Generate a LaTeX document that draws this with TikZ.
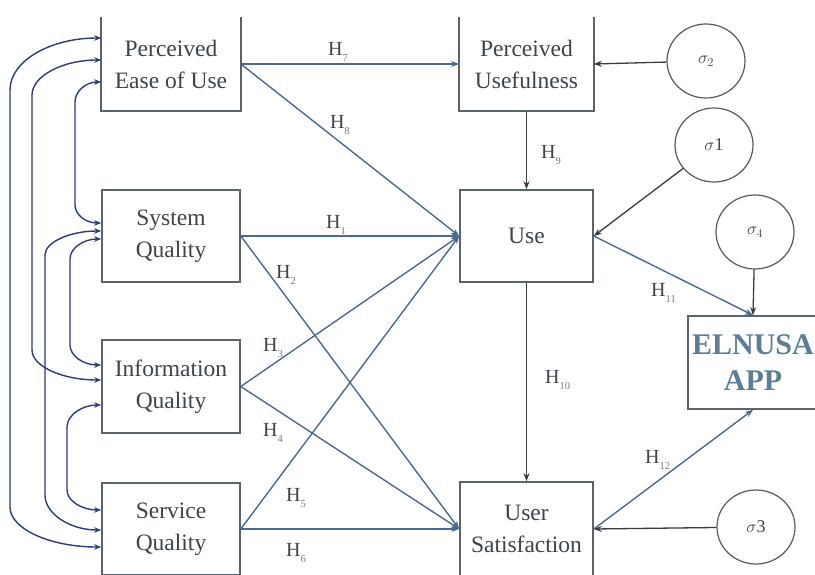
\documentclass[tikz,border=0pt]{standalone}
\usepackage{fontspec}
\setmainfont{Liberation Serif}
\usetikzlibrary{arrows.meta,shapes.geometric}
\definecolor{boxc}{HTML}{5A636E}
\definecolor{txtc}{HTML}{3E434B}
\definecolor{arrc}{HTML}{4A6A92}
\definecolor{darkc}{HTML}{3A3C40}
\definecolor{covc}{HTML}{2C3A7E}
\definecolor{appc}{HTML}{5B7E96}
\newcommand\Hsub[1]{H\raisebox{-0.3em}{\fontsize{10.5}{10.5}\selectfont\color{txtc!70}#1}}
\begin{document}
\begin{tikzpicture}[x=1pt,y=-1pt,
  box/.style={draw=boxc, line width=1.6pt, minimum width=138pt, minimum height=92pt,
    align=center, text=txtc, font=\fontsize{23.5}{32}\selectfont, inner sep=0pt},
  openbox/.style={box, draw=none},
  boxline/.style={draw=boxc, line width=1.6pt},
  errnode/.style={ellipse, draw=darkc!85, line width=1.2pt, minimum width=78pt,
    minimum height=74pt, inner sep=0pt, text=txtc, font=\fontsize{18}{18}\selectfont},
  hyp/.style={arrc, line width=1.4pt, -{Stealth[length=8pt,width=6pt]}},
  dhyp/.style={darkc, line width=1.3pt, -{Stealth[length=8pt,width=6pt]}},
  cov/.style={covc, line width=1.4pt, {Stealth[length=7pt,width=5.5pt]}-{Stealth[length=7pt,width=5.5pt]}},
  hl/.style={anchor=west, text=txtc, font=\fontsize{20}{20}\selectfont, inner sep=0pt}]
\useasboundingbox (0,0) rectangle (815,574);
\clip (0,0) rectangle (815,574);

% boxes
\node[openbox] (peou) at (171,64) {Perceived\\Ease of Use};
\node[openbox, minimum width=133pt] (pu) at (526.5,64) {Perceived\\Usefulness};
\node[box] (sq) at (171,236) {System\\Quality};
\node[box, minimum width=133pt] (use) at (526.5,236) {Use};
\node[box, minimum height=93pt] (iq) at (171,386.5) {Information\\Quality};
\node[box] (servq) at (171,529) {Service\\Quality};
\node[box, minimum width=133pt, minimum height=94pt] (us) at (526.5,529) {User\\Satisfaction};
\node[box, minimum width=130pt, minimum height=93pt, text=appc,
  font=\bfseries\fontsize{30}{36}\selectfont] (app) at (753,362.5) {ELNUSA\\APP};

\draw[boxline] (peou.north west) -- (peou.south west) -- (peou.south east) -- (peou.north east);
\draw[boxline] (pu.north west) -- (pu.south west) -- (pu.south east) -- (pu.north east);

% error terms
\node[errnode] (s2) at (706,61) {$\sigma_2$};
\node[errnode] (s1) at (714,145) {$\sigma$1};
\node[errnode] (s4) at (755,232) {$\sigma_4$};
\node[errnode] (s3) at (756,527) {$\sigma$3};

% hypotheses paths
\draw[hyp] (peou.east) -- (pu.west);
\draw[hyp] (peou.east) -- (use.west);
\draw[dhyp] (pu.south) -- (use.north);
\draw[hyp] (sq.east) -- (use.west);
\draw[hyp] (sq.east) -- (us.west);
\draw[hyp] (iq.east) -- (use.west);
\draw[hyp] (iq.east) -- (us.west);
\draw[hyp] (servq.east) -- (use.west);
\draw[hyp] (servq.east) -- (us.west);
\draw[dhyp] (use.south) -- (us.north);
\draw[hyp] (use.east) -- (app.north);
\draw[hyp] (us.east) -- (app.south);

% error arrows
\draw[dhyp] (s2) -- (pu.east);
\draw[dhyp] (s1) -- (use.east);
\draw[dhyp] (s4) -- (app.north);
\draw[dhyp] (s3) -- (us.east);

% labels
\node[hl] (h7) at (328,52) {\Hsub{7}};
\node[hl] (h8) at (330,125) {\Hsub{8}};
\node[hl] (h9) at (541,155) {\Hsub{9}};
\node[hl] (h1) at (326,225) {\Hsub{1}};
\node[hl] (h2) at (276,275) {\Hsub{2}};
\node[hl] (h3) at (263,348) {\Hsub{3}};
\node[hl] (h4) at (263,433) {\Hsub{4}};
\node[hl] (h5) at (286,498) {\Hsub{5}};
\node[hl] (h6) at (286,553) {\Hsub{6}};
\node[hl] (h10) at (545,380) {\Hsub{10}};
\node[hl] (h11) at (651,293) {\Hsub{11}};
\node[hl] (h12) at (645,460) {\Hsub{12}};

% covariances
\draw[cov] ([yshift=26pt]peou.west) .. controls +(-51,0) and +(0,-29) .. (10,90)
  -- (10,507) .. controls +(0,22) and +(-51,0) .. ([yshift=-18pt]servq.west);
\draw[cov] ([yshift=4pt]peou.west) .. controls +(-38.5,0) and +(0,-19) .. (32,95)
  -- (32,350) .. controls +(0,16.5) and +(-38.5,0) .. ([yshift=6.5pt]iq.west);
\draw[cov] ([yshift=-18pt]peou.west) .. controls +(-15,0) and +(0,-11) .. (75,102)
  -- (75,205) .. controls +(0,10) and +(-15,0) .. ([yshift=13pt]sq.west);
\draw[cov] ([yshift=5pt]sq.west) .. controls +(-31,0) and +(0,-13) .. (45,255)
  -- (45,495) .. controls +(0,19) and +(-31,0) .. ([yshift=-1pt]servq.west);
\draw[cov] ([yshift=-3pt]sq.west) .. controls +(-17.6,0) and +(0,-11) .. (70,259)
  -- (70,345) .. controls +(0,11) and +(-17.6,0) .. ([yshift=21.5pt]iq.west);
\draw[cov] ([yshift=-18.5pt]iq.west) .. controls +(-19,0) and +(0,-12) .. (67,427)
  -- (67,490) .. controls +(0,11) and +(-19,0) .. ([yshift=19pt]servq.west);
\end{tikzpicture}
\end{document}
